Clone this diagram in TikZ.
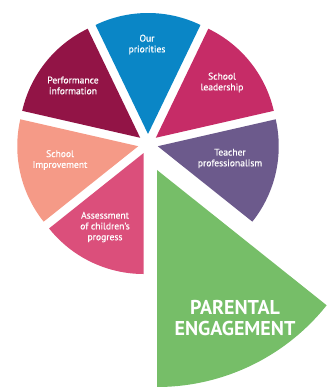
\documentclass[tikz,border=0pt]{standalone}
\usepackage{fontspec}
\setmainfont{PT Sans}
\newfontfamily\lblfont[FakeBold=0.5]{PT Sans}
\usetikzlibrary{calc}
\definecolor{cblue}{HTML}{0A86C6}
\definecolor{cperf}{HTML}{921446}
\definecolor{clead}{HTML}{C62C67}
\definecolor{cteach}{HTML}{6C5A8C}
\definecolor{csalmon}{HTML}{F59A87}
\definecolor{cassess}{HTML}{DB4F7B}
\definecolor{cgreen}{HTML}{76BE68}
\newcommand\mkslice[4]{%
  \fill[#4] ($(C)+({(#1+#2)/2}:10pt)$) coordinate (a#3) -- ++(#1:121pt)
    arc[start angle=#1, end angle=#2, radius=121pt] -- cycle;}
\begin{document}
\begin{tikzpicture}[x=1pt,y=1pt,
  lbl/.style={text=white, font=\lblfont\fontsize{9.6}{10.8}\selectfont, align=center, inner sep=0pt},
  biglbl/.style={text=white, font=\bfseries\fontsize{20}{21}\selectfont, align=center, inner sep=0pt}]
\useasboundingbox (0,0) rectangle (327,390);
\clip (0,0) rectangle (327,390);
\coordinate (C) at (148,246);
\mkslice{64.29}{115.71}{blue}{cblue}
\mkslice{12.86}{64.29}{lead}{clead}
\mkslice{-38.57}{12.86}{teach}{cteach}
\mkslice{218.57}{270}{assess}{cassess}
\mkslice{167.14}{218.57}{salmon}{csalmon}
\mkslice{115.71}{167.14}{perf}{cperf}
\coordinate (ag) at (157,220);
\fill[cgreen] (ag) -- ++(-90:217pt) arc[start angle=-90, end angle=-38.57, radius=217pt] -- cycle;
\node[lbl] (t1) at (147,345.5) {Our\\priorities};
\node[lbl] (t2) at (73,304.5) {Performance\\information};
\node[lbl] (t3) at (222,307.5) {School\\leadership};
\node[lbl] (t4) at (230,231.5) {Teacher\\professionalism};
\node[lbl] (t5) at (60,230) {School\\Improvement};
\node[lbl] (t6) at (105,163) {Assessment\\of children’s\\progress};
\node[biglbl] (t7) at (235,72) {PARENTAL\\ENGAGEMENT};
\end{tikzpicture}
\end{document}
